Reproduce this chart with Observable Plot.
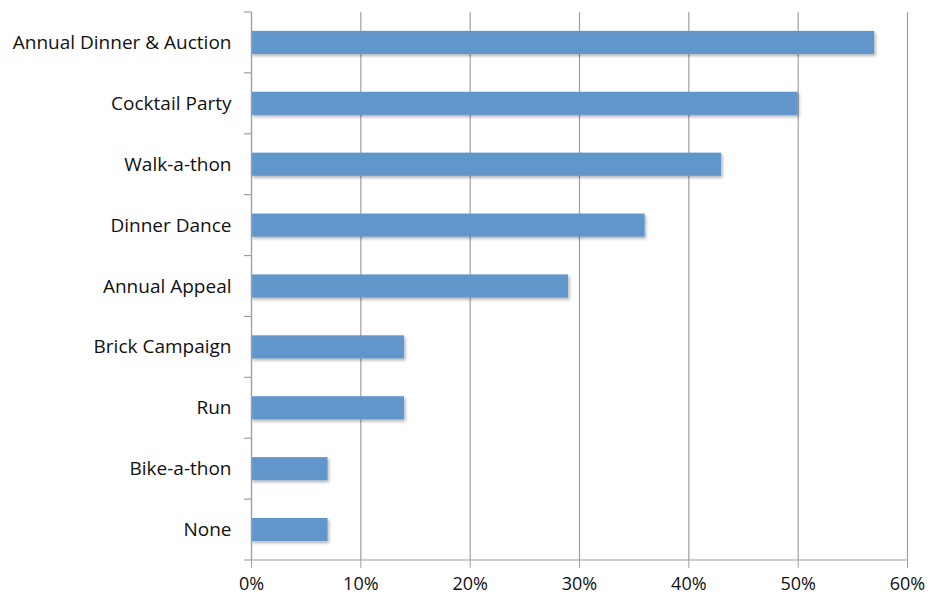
<!DOCTYPE html>
<html>
<head>
<meta charset="utf-8">
<script src="https://cdn.jsdelivr.net/npm/d3@7"></script>
<script src="https://cdn.jsdelivr.net/npm/@observablehq/plot@0.6"></script>
<style>
  html, body { margin: 0; padding: 0; background: #fff; }
  #chart svg { display: block; }
</style>
</head>
<body>
<div id="chart"></div>
<script>
const categories = ["Annual Dinner & Auction", "Cocktail Party", "Walk-a-thon", "Dinner Dance", "Annual Appeal", "Brick Campaign", "Run", "Bike-a-thon", "None"];
const values = [0.57, 0.50, 0.43, 0.36, 0.29, 0.14, 0.14, 0.07, 0.07];
const xTicks = [0, 0.1, 0.2, 0.3, 0.4, 0.5, 0.6];

const data = categories.map((c, i) => ({category: c, value: values[i]}));
const gray = "#a0a0a0";
const pad = 0.62;

const chart = Plot.plot({
  width: 928,
  height: 599,
  marginLeft: 251,
  marginRight: 21,
  marginTop: 12,
  marginBottom: 39,
  style: {fontFamily: "'Open Sans', sans-serif", fontSize: "19px", color: "#111", background: "#fff"},
  x: {domain: [0, 0.6], ticks: xTicks, tickFormat: d => Math.round(d * 100) + "%"},
  y: {domain: categories, paddingInner: pad, paddingOuter: pad / 2, align: 0.5, round: false},
  marks: [
    Plot.gridX(xTicks, {stroke: gray, strokeOpacity: 1, strokeWidth: 1.2}),
    Plot.barX(data, {x: "value", y: "category", fill: "#6096c9"}),
    Plot.ruleX([0], {stroke: gray, strokeWidth: 1.2}),
    Plot.axisX(xTicks, {tickSize: 8, tickPadding: 9, stroke: gray, fontSize: 18, tickFormat: d => Math.round(d * 100) + "%", label: null}),
    Plot.axisY({tickSize: 0, tickPadding: 20, fontSize: 19, label: null})
  ]
});

// Post-process: bottom axis line, y tick marks at band boundaries, bar shadows
const svg = d3.select(chart);
const ys = chart.scale("y");
const xs = chart.scale("x");
const x0 = xs.apply(0);
const x1 = xs.apply(0.6);
const step = ys.step;
const first = ys.apply(categories[0]) + ys.bandwidth / 2 - step / 2;
const g = svg.append("g").attr("stroke", gray).attr("stroke-width", 1.2);
for (let i = 0; i <= categories.length; i++) {
  const y = first + i * step;
  g.append("line").attr("x1", x0 - 7).attr("x2", x0).attr("y1", y).attr("y2", y);
}
g.append("line").attr("x1", x0).attr("x2", x1).attr("y1", first + categories.length * step).attr("y2", first + categories.length * step);

const defs = svg.insert("defs", ":first-child");
const f = defs.append("filter").attr("id", "shadow").attr("x", "-5%").attr("y", "-20%").attr("width", "115%").attr("height", "160%");
f.append("feDropShadow").attr("dx", 1.5).attr("dy", 2).attr("stdDeviation", 1.5).attr("flood-color", "#000").attr("flood-opacity", 0.3);
svg.selectAll("g[aria-label='bar']").attr("filter", "url(#shadow)");

document.getElementById("chart").appendChild(chart);
</script>
</body>
</html>
